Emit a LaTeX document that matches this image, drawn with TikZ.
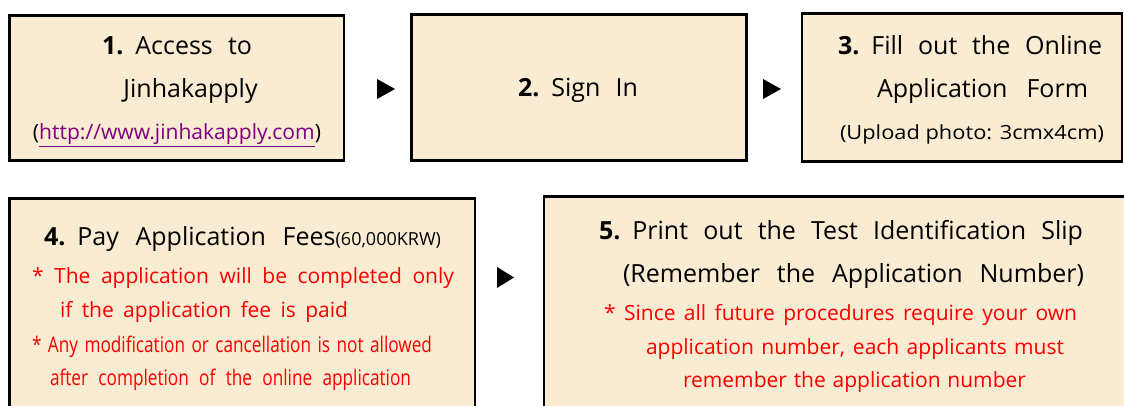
\documentclass[tikz,border=0pt]{standalone}
\usepackage{fontspec}
\setmainfont{Open Sans}
\newfontfamily\narrowfont[FakeStretch=0.8]{Open Sans}
\usepackage{graphicx}
\definecolor{boxfill}{RGB}{250,235,211}
\definecolor{urlpurple}{RGB}{128,0,128}
\definecolor{notered}{RGB}{255,0,0}
\newcommand{\stepnum}[1]{\textbf{#1}\hspace{12pt}}
\tikzset{
  stepbox/.style={draw=black, line width=2.6pt, fill=boxfill, outer sep=0pt, inner sep=0pt, anchor=north west},
  mainline/.style={anchor=base, inner sep=0pt, outer sep=0pt, font=\fontsize{25}{30}\selectfont},
  noteline/.style={anchor=base, inner sep=0pt, outer sep=0pt, text=notered, font=\fontsize{21}{25}\selectfont},
  narrowline/.style={anchor=base, inner sep=0pt, outer sep=0pt, text=notered, font=\fontsize{21.5}{26}\narrowfont},
  smallline/.style={anchor=base, inner sep=0pt, outer sep=0pt, font=\fontsize{19.5}{23}\selectfont},
  playmark/.style={fill=black}
}
\begin{document}
\begin{tikzpicture}[x=1pt,y=-1pt]
\useasboundingbox (0,0) rectangle (1124,406);
% boxes
\node[stepbox, minimum width=334.5pt, minimum height=145pt] (b1) at (9.5,15.5) {};
\node[stepbox, minimum width=335pt, minimum height=146pt] (b2) at (411.5,14.5) {};
\node[stepbox, minimum width=320pt, minimum height=148pt] (b3) at (802,13.5) {};
\node[stepbox, minimum width=465.5pt, minimum height=240pt] (b4) at (9.5,198.5) {};
\node[stepbox, minimum width=600pt, minimum height=240pt] (b5) at (544,196.5) {};
% arrows
\fill[playmark] (377,79) -- (395,89) -- (377,99) -- cycle;
\fill[playmark] (763,79) -- (781,89) -- (763,99) -- cycle;
\fill[playmark] (497,267) -- (514,277.5) -- (497,288) -- cycle;
% box 1
\node[mainline] (t1a) at (177,55) {\makebox[150pt][s]{\stepnum{1.}Access to}};
\node[mainline] (t1b) at (190.5,98) {Jinhakapply};
\node[anchor=base, inner sep=0pt] (t1c) at (177,140) {\resizebox{288pt}{\height}{\fontsize{21}{25}\selectfont (\textcolor{urlpurple}{\underline{http://www.jinhakapply.com}})}};
% box 2
\node[mainline] (t2) at (578,97) {\makebox[120pt][s]{\stepnum{2.}Sign In}};
% box 3
\node[mainline] (t3a) at (970,55) {\makebox[264pt][s]{\stepnum{3.}Fill out the Online}};
\node[mainline] (t3b) at (982.5,98) {\makebox[211pt][s]{Application Form}};
\node[smallline] (t3c) at (972,140) {\resizebox{264pt}{\height}{(Upload photo: 3cmx4cm)}};
% box 4
\node[mainline] (t4a) at (242.5,245) {\makebox[397pt][s]{\stepnum{4.}Pay Application Fees{\fontsize{18}{21}\selectfont(60,000KRW)}}};
\node[noteline] (t4b) at (243,283) {\makebox[422pt][s]{* The application will be completed only}};
\node[noteline] (t4c) at (204,317) {\makebox[288pt][s]{if the application fee is paid}};
\node[narrowline] (t4d) at (232,352) {\makebox[400pt][s]{* Any modification or cancellation is not allowed}};
\node[narrowline] (t4e) at (230.5,385) {\makebox[361pt][s]{after completion of the online application}};
% box 5
\node[mainline] (t5a) at (841,239) {\makebox[484pt][s]{\stepnum{5.}Print out the Test Identification Slip}};
\node[mainline] (t5b) at (853.5,282) {\makebox[461pt][s]{(Remember the Application Number)}};
\node[noteline] (t5c) at (840.5,320) {\makebox[473pt][s]{* Since all future procedures require your own}};
\node[noteline] (t5d) at (855,354) {\makebox[418pt][s]{application number, each applicants must}};
\node[noteline] (t5e) at (854.5,387) {\makebox[343pt][s]{remember the application number}};
\end{tikzpicture}
\end{document}
